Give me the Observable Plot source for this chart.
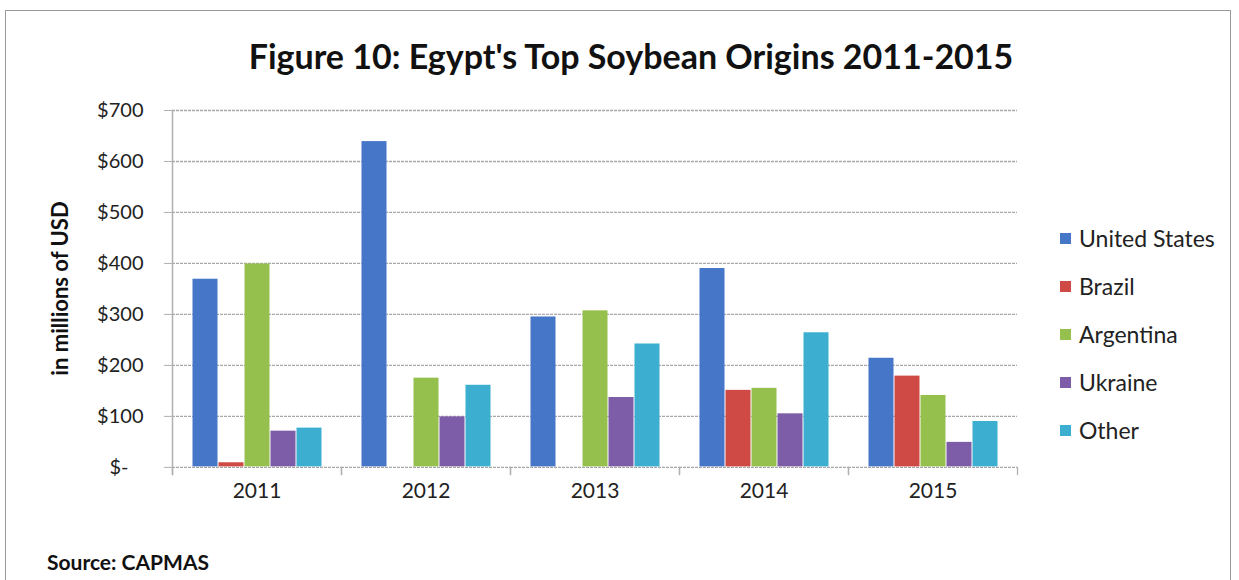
<!DOCTYPE html>
<html>
<head>
<meta charset="utf-8">
<script src="https://cdn.jsdelivr.net/npm/d3@7"></script>
<script src="https://cdn.jsdelivr.net/npm/@observablehq/plot@0.6"></script>
<style>
  html, body { margin: 0; padding: 0; background: #fff; }
  #wrap { position: relative; width: 1239px; height: 580px; overflow: hidden; font-family: Lato, "Open Sans", sans-serif; }
  #border { position: absolute; left: 5px; top: 10px; width: 1226px; height: 600px; border: 1px solid #9a9a9a; box-sizing: border-box; }
  #title { position: absolute; left: 0; width: 1262px; top: 36px; text-align: center; font-weight: bold; font-size: 34px; line-height: 40px; color: #111; }
  #chart { position: absolute; left: 0; top: 0; }
  #legend { position: absolute; left: 1060px; top: 222px; font-size: 23px; color: #222; }
  #legend .row { display: flex; align-items: center; height: 32px; margin-bottom: 16px; }
  #legend .sw { width: 11px; height: 11px; margin-right: 8px; }
  #source { position: absolute; left: 47px; top: 549px; font-weight: bold; font-size: 21px; color: #111; }
</style>
</head>
<body>
<div id="wrap">
  <div id="border"></div>
  <div id="title">Figure 10: Egypt's Top Soybean Origins 2011-2015</div>
  <div id="chart"></div>
  <div id="legend"></div>
  <div id="source">Source: CAPMAS</div>
</div>
<script>
const years = ["2011", "2012", "2013", "2014", "2015"];
const origins = ["United States", "Brazil", "Argentina", "Ukraine", "Other"];
const colors = ["#4676C8", "#D04A45", "#96C04E", "#7E5DA8", "#3CAFD0"];
// values in millions of USD, per origin, by year (null = no bar)
const unitedStates = [370, 640, 296, 391, 215];
const brazil = [10, null, null, 152, 180];
const argentina = [400, 176, 308, 156, 142];
const ukraine = [72, 100, 138, 106, 50];
const other = [78, 162, 243, 265, 91];
const yTicks = [0, 100, 200, 300, 400, 500, 600, 700];

const seriesValues = [unitedStates, brazil, argentina, ukraine, other];
const rows = [];
years.forEach((yr, i) => {
  origins.forEach((o, j) => {
    const v = seriesValues[j][i];
    if (v != null) rows.push({year: yr, origin: o, value: v});
  });
});

const W = 1040, H = 520, MT = 110, MB = 46;
const chart = Plot.plot({
  width: W,
  height: H,
  marginLeft: 172,
  marginRight: 23,
  marginTop: MT,
  marginBottom: MB,
  style: {fontFamily: "Lato, 'Open Sans', sans-serif", fontSize: "21px", color: "#222", background: "transparent"},
  fx: {domain: years, padding: 0, label: null, axis: "bottom", tickSize: 0, tickPadding: 9},
  x: {domain: origins, paddingInner: 0, paddingOuter: 0.75, axis: null},
  y: {domain: [-14, 700], ticks: yTicks, label: null, axis: null},
  color: {domain: origins, range: colors},
  marks: [
    Plot.ruleY(yTicks, {stroke: "#a8a8a8", strokeWidth: 1.3, strokeDasharray: "3,1"}),
    Plot.barY(rows, {fx: "year", x: "origin", y: "value", fill: "origin", inset: 0.5}),
    Plot.frame({anchor: "left", stroke: "#b0b0b0", strokeWidth: 1.3, insetTop: H - MT - MB - 7}),
    Plot.frame({anchor: "right", stroke: "#b0b0b0", strokeWidth: 1.3, insetTop: H - MT - MB - 7}),
    Plot.frame({anchor: "left", facetAnchor: "left", stroke: "#b0b0b0", strokeWidth: 1.5}),
    Plot.axisY(yTicks, {
      facetAnchor: "left",
      anchor: "left",
      tickSize: 8,
      tickPadding: 21,
      stroke: "#b0b0b0",
      fontSize: 20,
      tickFormat: d => d === 0 ? "$-\u2003" : "$" + d
    })
  ]
});
document.getElementById("chart").appendChild(chart);

// y axis title
const svg = d3.select(chart);
svg.append("text")
  .attr("transform", `translate(68, ${(110 + 467) / 2}) rotate(-90)`)
  .attr("text-anchor", "middle")
  .attr("font-weight", "bold")
  .attr("font-size", 22)
  .attr("fill", "#111")
  .text("in millions of USD");

// legend
const lg = document.getElementById("legend");
origins.forEach((o, j) => {
  const r = document.createElement("div");
  r.className = "row";
  r.innerHTML = `<div class="sw" style="background:${colors[j]}"></div><div>${o}</div>`;
  lg.appendChild(r);
});
</script>
</body>
</html>
